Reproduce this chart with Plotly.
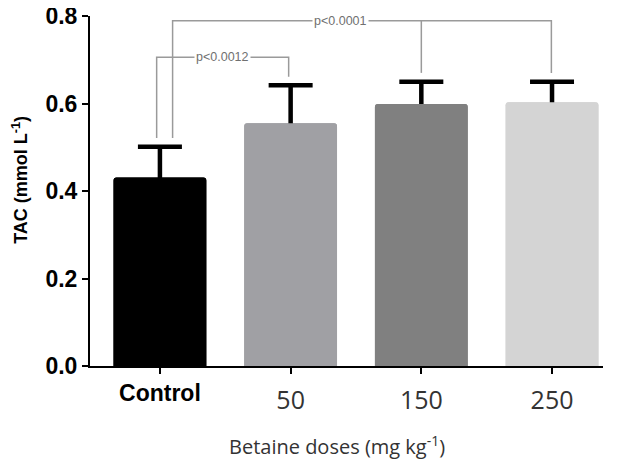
import plotly.graph_objects as go

categories = ["Control", "50", "150", "250"]
tac_mean = [0.431, 0.555, 0.599, 0.603]
tac_err = [0.070, 0.087, 0.051, 0.047]
bar_colors = ["#000000", "#a0a0a4", "#808080", "#d4d4d4"]
y_ticks = [0.0, 0.2, 0.4, 0.6, 0.8]

x_pos = list(range(len(categories)))

fig = go.Figure()
# bars carrying the (upper) error bars; lower cap hidden inside the bar
fig.add_trace(go.Bar(
    x=x_pos, y=tac_mean, width=0.71,
    marker=dict(color=bar_colors, line=dict(width=0)),
    error_y=dict(type="data", array=tac_err, arrayminus=[0.015]*4, symmetric=False,
                 color="black", thickness=4.5, width=22),
    showlegend=False, hoverinfo="skip",
))
# same bars drawn on top to cover the lower caps
fig.add_trace(go.Bar(
    x=x_pos, y=tac_mean, width=0.71,
    marker=dict(color=bar_colors, line=dict(width=0)),
    showlegend=False,
))

gray = "#9a9a9a"
def bracket(pts):
    return dict(type="path", xref="x", yref="y",
                path="M " + " L ".join(f"{x},{y}" for x, y in pts),
                line=dict(color=gray, width=1.5))

shapes = [
    bracket([(-0.025, 0.521), (-0.025, 0.706), (0.985, 0.706), (0.985, 0.661)]),
    bracket([(0.097, 0.521), (0.097, 0.789), (2.995, 0.789), (2.995, 0.670)]),
    bracket([(2.0, 0.789), (2.0, 0.670)]),
]

pfont = dict(family="Liberation Sans, Arial", size=12.5, color="#707070")
annots = [
    dict(x=0.48, y=0.706, xref="x", yref="y", text="p<0.0012", showarrow=False,
         font=pfont, bgcolor="white", borderpad=1),
    dict(x=1.38, y=0.789, xref="x", yref="y", text="p<0.0001", showarrow=False,
         font=pfont, bgcolor="white", borderpad=1),
    dict(x=-0.137, y=0.531, xref="paper", yref="paper", textangle=-90,
         text="<b>TAC (mmol L<sup>-1</sup>)</b>", showarrow=False,
         xanchor="center", yanchor="middle",
         font=dict(family="Liberation Sans, Arial", size=18, color="black")),
    dict(x=0.482, y=-0.228, xref="paper", yref="paper",
         text="Betaine doses (mg kg<sup>-1</sup>)", showarrow=False,
         xanchor="center", yanchor="middle",
         font=dict(family="Open Sans", size=20, color="#333")),
]

# the page places the figure 8 px from the top-left corner (default body margin)
fig.update_layout(
    width=621, height=456,
    margin=dict(l=82, r=26, t=8, b=98),
    plot_bgcolor="white", paper_bgcolor="white",
    barmode="overlay",
    barcornerradius=3,
    shapes=shapes, annotations=annots,
    xaxis=dict(
        range=[-0.535, 3.39], tickvals=x_pos, ticktext=[""] + categories[1:],
        automargin=False, ticklabeloverflow="allow", ticklabelstandoff=5,
        showline=True, linecolor="black", linewidth=2,
        ticks="outside", ticklen=6, tickwidth=2, tickcolor="black",
        showgrid=False, zeroline=False,
        tickfont=dict(family="Open Sans", size=25, color="#333"),
    ),
    xaxis2=dict(
        overlaying="x", matches="x", anchor="y", side="bottom",
        tickvals=[0], ticktext=[categories[0]], automargin=False,
        ticklabeloverflow="allow",
        showline=False, ticks="", showgrid=False, zeroline=False,
        ticklabelstandoff=11,
        tickfont=dict(family="Liberation Sans, Arial", size=23, color="black", weight="bold"),
    ),
    yaxis=dict(
        range=[0, 0.8], tickvals=y_ticks, tickformat=".1f",
        automargin=False, ticklabeloverflow="allow",
        showline=True, linecolor="black", linewidth=2,
        ticks="outside", ticklen=6, tickwidth=2, tickcolor="black",
        showgrid=False, zeroline=False,
        tickfont=dict(family="Liberation Sans, Arial", size=23, color="black", weight="bold"),
    ),
)
# invisible trace to activate the second x axis
fig.add_trace(go.Scatter(x=[0], y=[0], xaxis="x2", mode="markers",
                         marker=dict(opacity=0), showlegend=False, hoverinfo="skip"))

fig.write_html("out.html")
